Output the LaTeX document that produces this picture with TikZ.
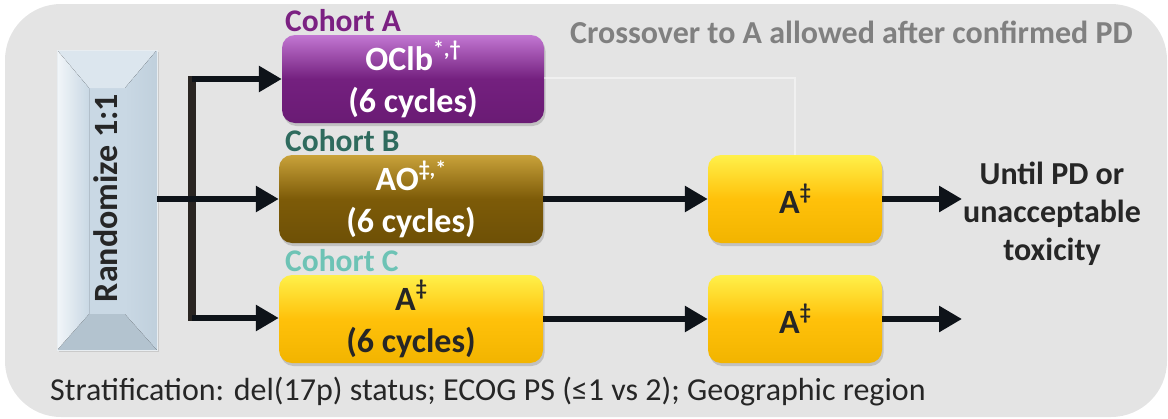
\documentclass[tikz,border=0pt]{standalone}
\usepackage{fontspec}
\setmainfont{Carlito}
\usetikzlibrary{arrows.meta,shadows,calc}
\definecolor{panelgray}{HTML}{E4E4E4}
\definecolor{arrowblack}{HTML}{0E1319}
\definecolor{vline}{HTML}{2A2522}
\definecolor{purpTop}{HTML}{C277D2}
\definecolor{purpBase}{HTML}{74207F}
\definecolor{purpBot}{HTML}{6A1B74}
\definecolor{brnTop}{HTML}{C9A23A}
\definecolor{brnBase}{HTML}{7D5B08}
\definecolor{brnBot}{HTML}{6E5006}
\definecolor{yelTop}{HTML}{FFF04A}
\definecolor{yelBase}{HTML}{FFC10A}
\definecolor{yelBot}{HTML}{F2B400}
\definecolor{cohA}{HTML}{7B2182}
\definecolor{cohB}{HTML}{2F6B5E}
\definecolor{cohC}{HTML}{6DC3B5}
\definecolor{grayTxt}{HTML}{808080}
\definecolor{darkTxt}{HTML}{262626}
\definecolor{rndCenter}{HTML}{C9D8E4}
\definecolor{rndTop}{HTML}{DCE6EE}
\definecolor{rndBot}{HTML}{B3C3CF}
\definecolor{rndLeft}{HTML}{F2F6F9}
\definecolor{rndRight}{HTML}{C0D0DC}
\newcommand{\supmark}[1]{\raisebox{0.42em}{\fontsize{22}{22}\selectfont #1}}
\tikzset{
  cbox/.style={rounded corners=13pt, inner sep=0pt, align=center,
    font=\bfseries\fontsize{34}{42}\selectfont,
    drop shadow={opacity=0.35, shadow xshift=1.5pt, shadow yshift=-3pt}},
  purplebox/.style={cbox, top color=purpTop, bottom color=purpBot, middle color=purpBase, text=white},
  brownbox/.style={cbox, top color=brnTop, bottom color=brnBot, middle color=brnBase, text=white},
  yellowbox/.style={cbox, top color=yelTop, bottom color=yelBot, middle color=yelBase, text=darkTxt},
  arr/.style={draw=arrowblack, line width=6.5pt, -{Triangle[length=23pt,width=25pt]}},
  cohortlbl/.style={anchor=base west, inner sep=0pt, font=\bfseries\fontsize{31.5}{36}\selectfont},
}
\begin{document}
\begin{tikzpicture}[x=1pt,y=-1pt]
\useasboundingbox (0,0) rectangle (1168,418);
% panel
\fill[panelgray, rounded corners=56pt] (5,4) rectangle (1167,417);

% Randomize box (bevelled)
\node[minimum width=100pt, minimum height=300pt, inner sep=0pt, fill=rndCenter,
      drop shadow={opacity=0.25, shadow xshift=1.5pt, shadow yshift=-2pt}] (R) at (107,200) {};
\fill[rndTop] (57,50) -- (157,50) -- (125,88) -- (89,88) -- cycle;
\fill[rndBot] (57,350) -- (157,350) -- (125,314) -- (89,314) -- cycle;
\fill[left color=rndLeft, right color=rndCenter] (57,50) -- (89,88) -- (89,314) -- (57,350) -- cycle;
\fill[left color=rndCenter, right color=rndRight] (157,50) -- (125,88) -- (125,314) -- (157,350) -- cycle;
\draw[white!70!rndBot, line width=0.6pt] (57,50) rectangle (157,350);
\node[rotate=90, font=\bfseries\fontsize{34}{40}\selectfont, text=darkTxt] (Rt) at (106,198) {Randomize 1:1};

% cohort boxes
\node[purplebox, minimum width=262pt, minimum height=88pt] (A) at (413,79) {OClb\supmark{*,†}\\(6 cycles)};
\node[brownbox, minimum width=264pt, minimum height=88pt] (B) at (411,199) {AO\supmark{‡,*}\\(6 cycles)};
\node[yellowbox, minimum width=264pt, minimum height=88pt] (C) at (411,319) {A\supmark{‡}\\(6 cycles)};
\node[yellowbox, minimum width=174pt, minimum height=88pt] (A2) at (795,199) {A\supmark{‡}};
\node[yellowbox, minimum width=174pt, minimum height=88pt] (A3) at (795,319) {A\supmark{‡}};

% faint crossover line
\coordinate (fx) at (795,78);
\draw[white, opacity=0.45, line width=1.2pt] (A.east |- fx) -- (fx) -- (A2.north);

% cohort labels
\node[cohortlbl, text=cohA] (la) at (285,31) {Cohort A};
\node[cohortlbl, text=cohB] (lb) at (285,151) {Cohort B};
\node[cohortlbl, text=cohC] (lc) at (285,271) {Cohort C};

% connectors
\coordinate (jt) at (192,79);
\coordinate (jb) at (192,318);
\draw[vline, line width=8pt] ($(jt)+(0,-3)$) -- ($(jb)+(0,3)$);
\draw[arr] (jt) -- (jt -| A.west);
\draw[arr] (jb) -- (jb -| C.west);
\draw[arr] (R.east |- B.west) -- (B.west);
\draw[arr] (B.east) -- (A2.west);
\draw[arr] (C.east) -- (A3.west);
\coordinate (e1) at (962,199);
\coordinate (e2) at (962,319);
\draw[arr] (A2.east) -- (e1);
\draw[arr] (A3.east) -- (e2);

% texts
\node[anchor=base west, inner sep=0pt, text=grayTxt, font=\bfseries\fontsize{32}{36}\selectfont] (cross) at (570,43) {Crossover to A allowed after confirmed PD};
\node[align=center, inner sep=0pt, text=darkTxt, font=\bfseries\fontsize{32}{38}\selectfont] (until) at (1052,214) {Until PD or\\unacceptable\\toxicity};
\node[anchor=base west, inner sep=0pt, text=darkTxt, font=\fontsize{32}{36}\selectfont] (strat) at (50,400) {Stratification: del(17p) status; ECOG PS (≤1 vs 2); Geographic region};
\end{tikzpicture}
\end{document}
